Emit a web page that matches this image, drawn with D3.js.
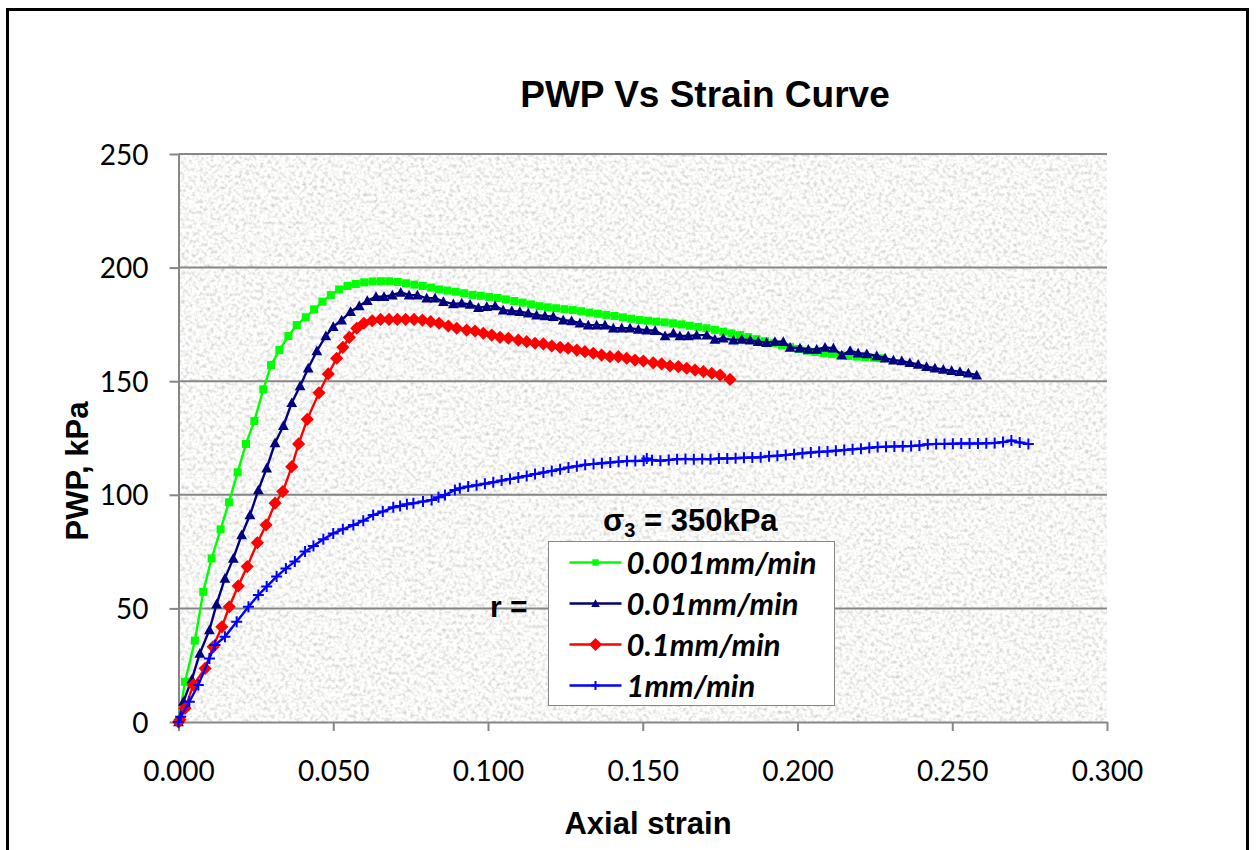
<!DOCTYPE html>
<html>
<head>
<meta charset="utf-8">
<script src="https://cdn.jsdelivr.net/npm/d3@7"></script>
<style>
  body { margin: 0; background: #fff; }
  svg { display: block; }
</style>
</head>
<body>
<div id="chart"></div>
<script>
// Data: [axial strain, PWP kPa]
const rate0001 = [
  [0.0000, 0.0], [0.0021, 17.7], [0.0053, 35.8], [0.0080, 57.3], [0.0107, 72.0], [0.0136, 84.8],
  [0.0163, 96.7], [0.0191, 109.9], [0.0218, 122.4], [0.0245, 132.5], [0.0274, 146.4], [0.0299, 157.1],
  [0.0326, 163.7], [0.0355, 169.9], [0.0382, 174.7], [0.0411, 178.1], [0.0438, 181.6], [0.0465, 185.0],
  [0.0492, 187.9], [0.0519, 190.4], [0.0546, 191.9], [0.0573, 192.8], [0.0600, 193.5], [0.0627, 193.9],
  [0.0654, 194.0], [0.0681, 194.0], [0.0708, 193.7], [0.0735, 193.1], [0.0762, 192.5], [0.0789, 191.9],
  [0.0816, 191.2], [0.0842, 190.4], [0.0869, 189.9], [0.0896, 189.4], [0.0923, 188.7], [0.0950, 188.0],
  [0.0977, 187.6], [0.1004, 187.1], [0.1031, 186.6], [0.1058, 186.0], [0.1085, 185.3], [0.1112, 184.6],
  [0.1139, 183.8], [0.1166, 183.0], [0.1193, 182.5], [0.1220, 182.1], [0.1247, 181.7], [0.1274, 181.3],
  [0.1301, 180.8], [0.1328, 180.2], [0.1355, 179.7], [0.1382, 179.2], [0.1409, 178.7], [0.1436, 178.1],
  [0.1463, 177.5], [0.1490, 176.9], [0.1517, 176.6], [0.1544, 176.2], [0.1571, 175.9], [0.1598, 175.5],
  [0.1625, 175.0], [0.1652, 174.4], [0.1679, 173.9], [0.1706, 173.3], [0.1733, 172.6], [0.1760, 171.8],
  [0.1787, 171.0], [0.1814, 170.3], [0.1841, 169.4], [0.1868, 168.5], [0.1895, 167.6], [0.1922, 166.7],
  [0.1949, 165.9], [0.1976, 165.0], [0.2003, 164.2], [0.2030, 163.4], [0.2057, 162.9], [0.2084, 162.4],
  [0.2111, 162.0], [0.2138, 161.5], [0.2165, 161.1], [0.2192, 160.8], [0.2219, 160.5], [0.2246, 160.3],
  [0.2267, 160.1]
];
const rate001 = [
  [0.0000, 0.0], [0.0016, 9.0], [0.0043, 18.8], [0.0069, 30.2], [0.0100, 40.5], [0.0123, 51.9],
  [0.0150, 63.2], [0.0177, 72.0], [0.0204, 82.3], [0.0231, 91.1], [0.0258, 102.1], [0.0285, 111.7],
  [0.0312, 122.8], [0.0339, 130.4], [0.0366, 140.5], [0.0393, 147.9], [0.0419, 155.7], [0.0447, 163.3],
  [0.0476, 169.9], [0.0500, 174.0], [0.0527, 176.9], [0.0556, 180.6], [0.0584, 183.1], [0.0610, 185.4],
  [0.0638, 187.2], [0.0664, 187.2], [0.0691, 187.9], [0.0718, 189.1], [0.0745, 187.9], [0.0772, 187.9],
  [0.0802, 186.5], [0.0829, 186.5], [0.0856, 185.0], [0.0888, 184.0], [0.0915, 184.3], [0.0942, 183.8],
  [0.0969, 182.4], [0.0996, 182.8], [0.1023, 183.1], [0.1049, 181.3], [0.1077, 180.9], [0.1103, 180.6],
  [0.1130, 179.9], [0.1157, 179.1], [0.1184, 178.7], [0.1211, 178.4], [0.1243, 176.9], [0.1270, 176.5],
  [0.1297, 175.5], [0.1324, 174.7], [0.1351, 174.7], [0.1378, 174.7], [0.1405, 173.3], [0.1432, 173.3],
  [0.1459, 173.3], [0.1486, 172.8], [0.1513, 172.5], [0.1540, 172.2], [0.1572, 169.9], [0.1599, 171.1],
  [0.1620, 169.9], [0.1647, 169.9], [0.1674, 170.3], [0.1707, 170.3], [0.1733, 168.4], [0.1760, 168.9],
  [0.1793, 168.1], [0.1820, 168.4], [0.1847, 168.1], [0.1873, 167.4], [0.1900, 167.0], [0.1927, 167.4],
  [0.1954, 167.4], [0.1976, 164.9], [0.2008, 164.5], [0.2035, 164.0], [0.2062, 164.0], [0.2089, 164.9],
  [0.2116, 164.5], [0.2143, 161.5], [0.2170, 163.4], [0.2196, 162.3], [0.2224, 162.0], [0.2256, 161.1],
  [0.2283, 160.1], [0.2310, 159.3], [0.2337, 158.9], [0.2363, 158.1], [0.2390, 157.4], [0.2417, 156.4],
  [0.2444, 155.7], [0.2471, 155.2], [0.2498, 154.6], [0.2525, 154.2], [0.2552, 153.5], [0.2579, 152.7]
];
const rate01 = [
  [0.0000, 0.0], [0.0005, 1.0], [0.0021, 6.0], [0.0048, 16.3], [0.0086, 23.6], [0.0112, 33.1],
  [0.0140, 41.9], [0.0164, 50.7], [0.0193, 59.9], [0.0222, 68.4], [0.0255, 78.9], [0.0283, 86.7],
  [0.0312, 96.3], [0.0337, 101.4], [0.0366, 112.4], [0.0388, 122.4], [0.0416, 133.2], [0.0454, 144.9],
  [0.0484, 153.2], [0.0511, 160.1], [0.0531, 164.9], [0.0552, 169.3], [0.0576, 173.3], [0.0599, 175.5],
  [0.0626, 176.6], [0.0653, 177.2], [0.0680, 177.2], [0.0707, 177.2], [0.0734, 177.2], [0.0761, 177.2],
  [0.0788, 176.9], [0.0815, 176.2], [0.0842, 175.5], [0.0872, 174.3], [0.0899, 173.3], [0.0931, 172.5],
  [0.0958, 172.1], [0.0985, 171.1], [0.1012, 170.3], [0.1039, 169.3], [0.1066, 168.9], [0.1098, 168.1],
  [0.1125, 167.4], [0.1152, 166.7], [0.1179, 166.4], [0.1206, 165.5], [0.1233, 164.9], [0.1259, 164.5],
  [0.1287, 163.7], [0.1313, 163.0], [0.1340, 162.3], [0.1367, 161.5], [0.1394, 160.8], [0.1421, 160.8],
  [0.1448, 160.1], [0.1475, 159.3], [0.1502, 158.9], [0.1534, 158.1], [0.1561, 157.6], [0.1588, 156.7],
  [0.1615, 156.4], [0.1642, 155.7], [0.1669, 154.9], [0.1696, 154.2], [0.1723, 153.5], [0.1750, 152.7],
  [0.1782, 150.8]
];
const rate1 = [
  [0.0000, 0.0], [0.0007, 2.3], [0.0035, 8.9], [0.0064, 16.3], [0.0100, 28.0], [0.0118, 33.9],
  [0.0150, 37.5], [0.0188, 44.1], [0.0226, 50.7], [0.0258, 55.9], [0.0285, 59.6], [0.0317, 64.0],
  [0.0347, 67.6], [0.0376, 70.6], [0.0409, 75.0], [0.0436, 77.5], [0.0468, 80.4], [0.0500, 83.0],
  [0.0531, 84.8], [0.0565, 86.7], [0.0597, 88.6], [0.0629, 91.1], [0.0660, 92.6], [0.0694, 94.5],
  [0.0716, 95.1], [0.0738, 95.8], [0.0759, 96.3], [0.0790, 97.0], [0.0818, 97.7], [0.0840, 98.9],
  [0.0861, 99.9], [0.0893, 102.1], [0.0909, 102.9], [0.0936, 103.6], [0.0963, 104.2], [0.0990, 104.9],
  [0.1017, 105.5], [0.1044, 106.3], [0.1071, 106.9], [0.1098, 107.6], [0.1125, 108.3], [0.1152, 109.1],
  [0.1179, 109.8], [0.1206, 110.5], [0.1233, 111.2], [0.1260, 112.0], [0.1287, 112.6], [0.1314, 113.2],
  [0.1341, 113.6], [0.1368, 113.9], [0.1395, 114.2], [0.1422, 114.6], [0.1449, 114.9], [0.1476, 114.9],
  [0.1503, 115.0], [0.1513, 116.0], [0.1530, 115.2], [0.1557, 115.0], [0.1584, 115.3], [0.1611, 115.7],
  [0.1638, 115.8], [0.1665, 115.6], [0.1692, 115.8], [0.1719, 115.6], [0.1746, 116.0], [0.1773, 116.0],
  [0.1800, 116.1], [0.1827, 116.3], [0.1854, 116.4], [0.1881, 116.5], [0.1908, 117.0], [0.1935, 117.2],
  [0.1962, 117.5], [0.1989, 117.9], [0.2016, 118.3], [0.2043, 118.6], [0.2070, 118.9], [0.2097, 119.1],
  [0.2124, 119.4], [0.2151, 119.7], [0.2178, 120.0], [0.2205, 120.3], [0.2232, 120.7], [0.2259, 121.0],
  [0.2286, 121.2], [0.2313, 121.3], [0.2340, 121.4], [0.2367, 121.5], [0.2394, 121.7], [0.2421, 122.2],
  [0.2448, 122.4], [0.2475, 122.4], [0.2502, 122.5], [0.2529, 122.6], [0.2556, 122.6], [0.2583, 122.6],
  [0.2610, 122.7], [0.2637, 122.8], [0.2664, 123.2], [0.2691, 123.9], [0.2718, 123.0], [0.2746, 122.4]
];

const seriesNames = ["0.001mm/min", "0.01mm/min", "0.1mm/min", "1mm/min"];
const seriesData = [rate0001, rate001, rate01, rate1];
const xTicks = [0, 0.05, 0.10, 0.15, 0.20, 0.25, 0.30];
const yTicks = [0, 50, 100, 150, 200, 250];

const width = 1257, height = 850;
const margin = { top: 154, right: 150, bottom: 128, left: 178.5 };
const innerWidth = width - margin.left - margin.right;
const innerHeight = height - margin.top - margin.bottom;

const colors = ["#00ff00", "#000080", "#ff0000", "#0000ff"];
const shapes = ["square", "triangle", "diamond", "plus"];

const svg = d3.select("#chart")
  .append("svg")
    .attr("width", width)
    .attr("height", height);

// paper-like grey texture for the plot area
const defs = svg.append("defs");
const filter = defs.append("filter")
    .attr("id", "paper")
    .attr("x", 0).attr("y", 0).attr("width", 1).attr("height", 1);
filter.append("feTurbulence")
    .attr("type", "fractalNoise")
    .attr("baseFrequency", 0.28)
    .attr("numOctaves", 2)
    .attr("seed", 7)
    .attr("result", "noise");
filter.append("feColorMatrix")
    .attr("in", "noise")
    .attr("type", "matrix")
    .attr("values", "0.85 0 0 0 0.51  0.85 0 0 0 0.51  0.85 0 0 0 0.50  0 0 0 0 1");

// outer frame (bottom edge runs off the page)
svg.append("path")
    .attr("d", "M7.5,850V9.5H1247.5V850")
    .attr("fill", "none")
    .attr("stroke", "#000")
    .attr("stroke-width", 3);

const g = svg.append("g")
    .attr("transform", `translate(${margin.left}, ${margin.top})`);

const xScale = d3.scaleLinear().domain([0, 0.3]).range([0, innerWidth]);
const yScale = d3.scaleLinear().domain([0, 250]).range([innerHeight, 0]);

g.append("rect")
    .attr("width", innerWidth)
    .attr("height", innerHeight)
    .attr("fill", "#ececec")
    .attr("filter", "url(#paper)");

// horizontal gridlines
g.selectAll(".grid")
  .data(yTicks.filter(d => d > 0))
  .join("line")
    .attr("class", "grid")
    .attr("x1", 0).attr("x2", innerWidth)
    .attr("y1", d => yScale(d)).attr("y2", d => yScale(d))
    .attr("stroke", "#868686")
    .attr("stroke-width", 2);

// axes
const xAxis = g.append("g")
    .attr("transform", `translate(0, ${innerHeight})`)
    .call(d3.axisBottom(xScale).tickValues(xTicks).tickFormat(d3.format(".3f"))
      .tickSize(9).tickSizeOuter(0).tickPadding(30));
const yAxis = g.append("g")
    .call(d3.axisLeft(yScale).tickValues(yTicks).tickSize(9).tickSizeOuter(0).tickPadding(21));

[xAxis, yAxis].forEach(ax => {
  ax.select(".domain").attr("stroke", "#868686").attr("stroke-width", 2);
  ax.selectAll(".tick line").attr("stroke", "#868686").attr("stroke-width", 2);
  ax.selectAll(".tick text")
    .attr("fill", "#000")
    .style("font-family", "Lato, 'Open Sans', sans-serif")
    .style("font-size", "28px");
});
yAxis.selectAll(".tick text").attr("dy", "0.36em");

// marker drawing helper
const drawMarker = (sel, shape, color, scale = 1) => {
  if (shape === "square") {
    sel.append("rect")
      .attr("x", -4 * scale).attr("y", -4 * scale)
      .attr("width", 8 * scale).attr("height", 8 * scale)
      .attr("fill", color);
  } else if (shape === "triangle") {
    const s = 5.4 * scale;
    sel.append("path")
      .attr("d", `M0,${-s}L${s},${s * 0.8}L${-s},${s * 0.8}Z`)
      .attr("fill", color);
  } else if (shape === "diamond") {
    const s = 6.6 * scale;
    sel.append("path")
      .attr("d", `M0,${-s}L${s},0L0,${s}L${-s},0Z`)
      .attr("fill", color);
  } else {
    const s = 5.5 * scale;
    sel.append("path")
      .attr("d", `M${-s},0H${s}M0,${-s}V${s}`)
      .attr("stroke", color)
      .attr("stroke-width", 2)
      .attr("fill", "none");
  }
};

const lineGenerator = d3.line()
  .x(d => xScale(d[0]))
  .y(d => yScale(d[1]));

seriesData.forEach((data, i) => {
  const series = g.append("g").attr("class", `series-${i}`);
  series.append("path")
    .datum(data)
    .attr("d", lineGenerator)
    .attr("fill", "none")
    .attr("stroke", colors[i])
    .attr("stroke-width", 2.4);
  series.selectAll(".pt")
    .data(data)
    .join("g")
      .attr("class", "pt")
      .attr("transform", d => `translate(${xScale(d[0])}, ${yScale(d[1])})`)
      .each(function () { drawMarker(d3.select(this), shapes[i], colors[i]); });
});

// title & axis titles
svg.append("text")
    .text("PWP Vs Strain Curve")
    .attr("x", 705).attr("y", 107)
    .attr("text-anchor", "middle")
    .style("font-family", "'Liberation Sans', Arial, sans-serif")
    .style("font-size", "37px")
    .style("font-weight", 700);

svg.append("text")
    .text("Axial strain")
    .attr("x", 648).attr("y", 834)
    .attr("text-anchor", "middle")
    .style("font-family", "'Liberation Sans', Arial, sans-serif")
    .style("font-size", "31px")
    .style("font-weight", 700);

svg.append("text")
    .text("PWP, kPa")
    .attr("transform", "translate(88, 471) rotate(-90)")
    .attr("text-anchor", "middle")
    .style("font-family", "'Liberation Sans', Arial, sans-serif")
    .style("font-size", "31px")
    .style("font-weight", 700);

// annotation text
const sigma = svg.append("text")
    .attr("x", 603).attr("y", 531)
    .style("font-family", "'Liberation Sans', Arial, sans-serif")
    .style("font-size", "31px")
    .style("font-weight", 700);
sigma.append("tspan").text("σ");
sigma.append("tspan").text("3").attr("dy", 6).style("font-size", "20px");
sigma.append("tspan").text(" = 350kPa").attr("dy", -6);

svg.append("text")
    .text("r =")
    .attr("x", 490).attr("y", 617)
    .style("font-family", "'Liberation Sans', Arial, sans-serif")
    .style("font-size", "30px")
    .style("font-weight", 700);

// legend
const legend = svg.append("g").attr("transform", "translate(548.5, 541.5)");
legend.append("rect")
    .attr("width", 286).attr("height", 164)
    .attr("fill", "#fff")
    .attr("stroke", "#868686")
    .attr("stroke-width", 1);

const rows = legend.selectAll(".legend-row")
  .data(seriesNames)
  .join("g")
    .attr("class", "legend-row")
    .attr("transform", (d, i) => `translate(0, ${21 + i * 41})`);
rows.append("line")
    .attr("x1", 21).attr("x2", 73)
    .attr("stroke", (d, i) => colors[i])
    .attr("stroke-width", 2.4);
rows.each(function (d, i) {
  const m = d3.select(this).append("g").attr("transform", "translate(47, 0)");
  drawMarker(m, shapes[i], colors[i], i === 2 ? 1 : 0.8);
});
rows.append("text")
    .text(d => d)
    .attr("x", 78)
    .attr("dy", "0.36em")
    .style("font-family", "Lato, 'Open Sans', sans-serif")
    .style("font-size", "31px")
    .style("font-style", "italic")
    .style("font-weight", 700);
</script>
</body>
</html>
